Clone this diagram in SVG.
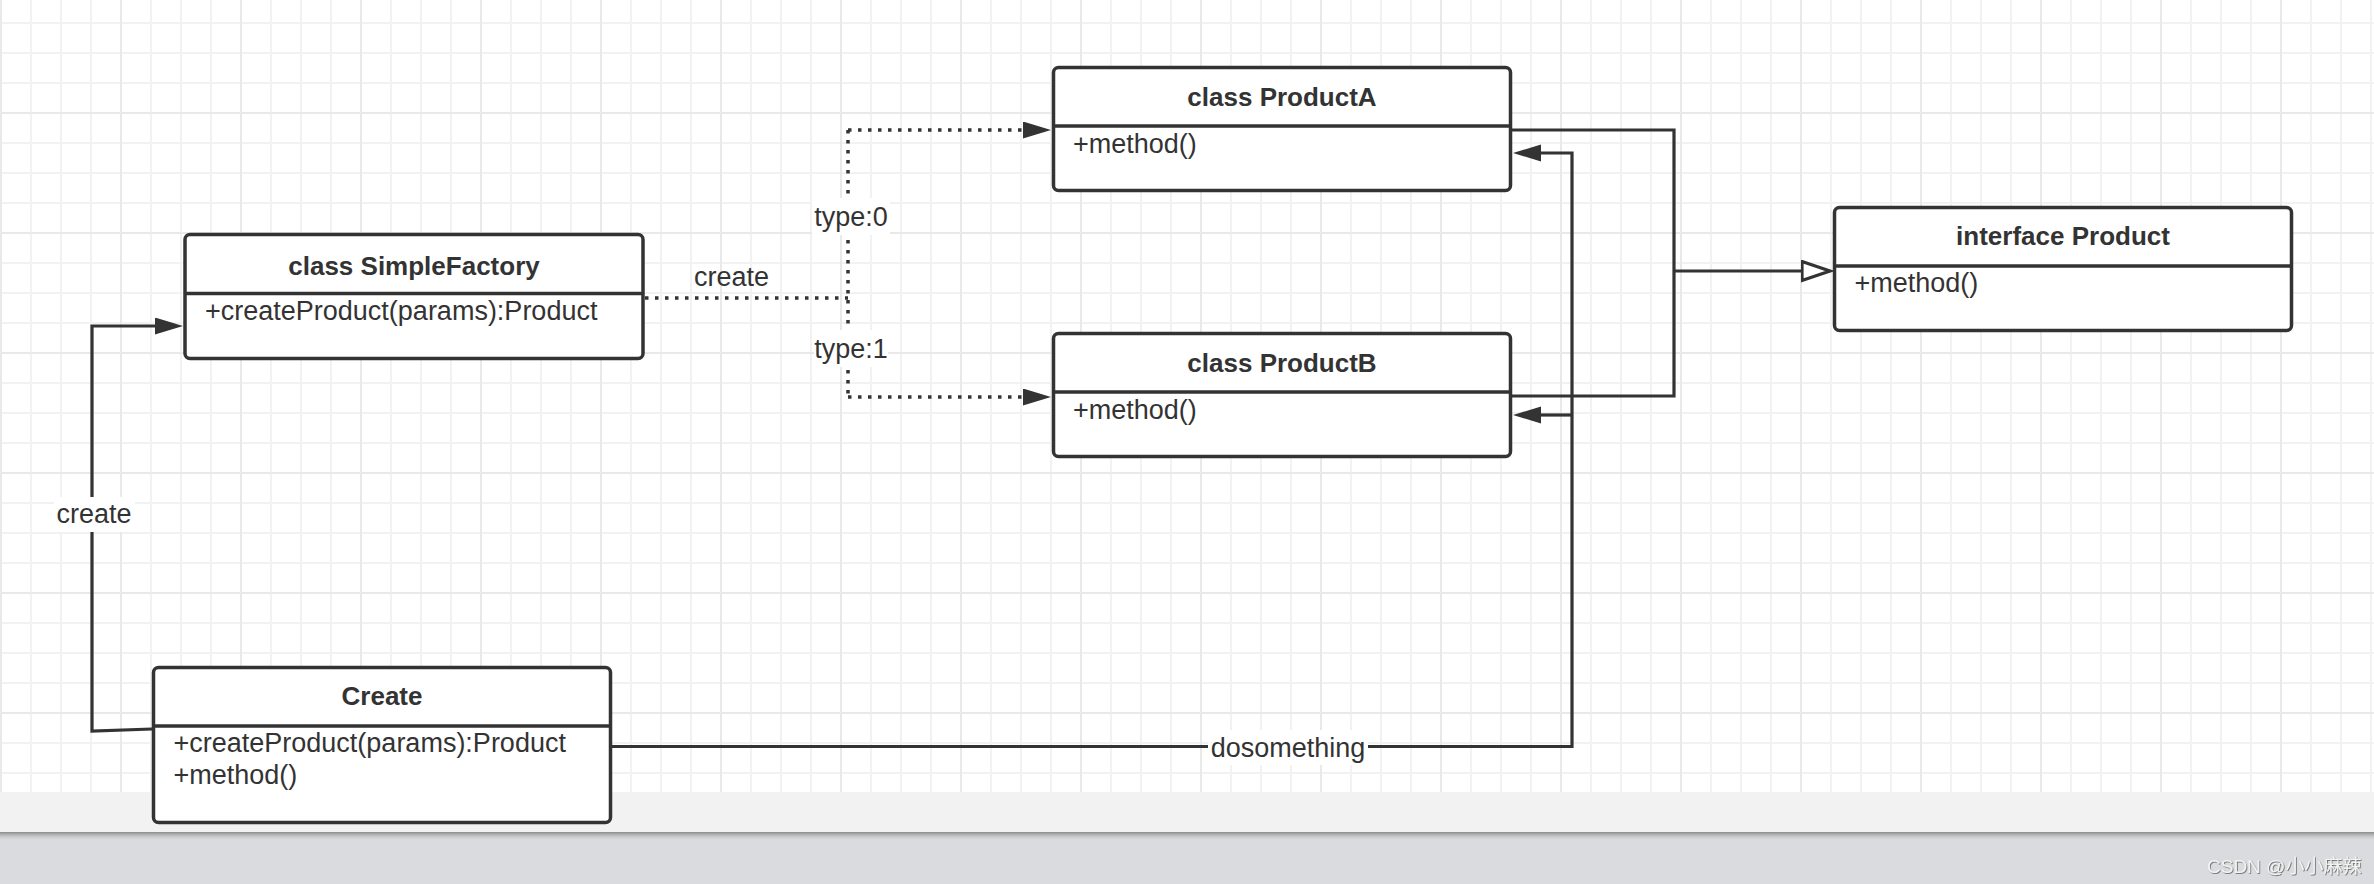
<svg xmlns="http://www.w3.org/2000/svg" width="2374" height="884" viewBox="0 0 2374 884">
<style>
.box{fill:#ffffff;stroke:#333333;stroke-width:3.5}
.div{stroke:#333333;stroke-width:3.5}
.title{font-family:"Liberation Sans",Arial,sans-serif;font-size:26px;font-weight:700;fill:#333333;text-anchor:middle}
.txt{font-family:"Liberation Sans",Arial,sans-serif;font-size:27px;fill:#333333}
.lbl{font-family:"Liberation Sans",Arial,sans-serif;font-size:27px;fill:#333333;text-anchor:middle}
.lblbg{fill:#ffffff}
.edge{fill:none;stroke:#333333;stroke-width:3.2}
.dot{fill:none;stroke:#333333;stroke-width:3.5;stroke-dasharray:3.5 6.5}
.wm{font-family:"Liberation Sans","Noto Sans CJK SC",sans-serif;font-size:19px;fill:#f3f3f3}
</style>
<defs>
<pattern id="grid" patternUnits="userSpaceOnUse" x="-14" y="-22" width="120" height="120">
<path d="M45,0V120M75,0V120M105,0V120M0,45H120M0,75H120M0,105H120" stroke="#f2f2f2" stroke-width="2" fill="none"/>
<path d="M15,0V120M0,15H120" stroke="#e9e9e9" stroke-width="2" fill="none"/>
</pattern>
<linearGradient id="shadow" x1="0" y1="0" x2="0" y2="1">
<stop offset="0" stop-color="#8a8a8a"/>
<stop offset="1" stop-color="#dadbde" stop-opacity="0"/>
</linearGradient>
<marker id="arr" markerUnits="userSpaceOnUse" markerWidth="30" markerHeight="20" refX="0" refY="8.5" orient="auto" viewBox="0 0 30 20">
<path d="M0,0 L28,8.5 L0,17 z" fill="#333333"/>
</marker>
<marker id="tri" markerUnits="userSpaceOnUse" markerWidth="34" markerHeight="24" refX="1.5" refY="11" orient="auto" viewBox="0 0 34 24">
<path d="M1.5,1.5 L29.5,11 L1.5,20.5 z" fill="#ffffff" stroke="#333333" stroke-width="3.2"/>
</marker>
<filter id="emboss" x="-5%" y="-20%" width="110%" height="140%">
<feDropShadow dx="0.8" dy="0.8" stdDeviation="0.5" flood-color="#555555" flood-opacity="0.9"/>
</filter>
</defs>

<g id="background">
<rect x="0" y="0" width="2374" height="792" fill="#ffffff"/>
<rect x="0" y="0" width="2374" height="792" fill="url(#grid)"/>
<rect x="0" y="792" width="2374" height="40" fill="#f2f2f2"/>
<rect x="0" y="832" width="2374" height="52" fill="#dadbde"/>
<rect x="0" y="832" width="2374" height="9" fill="url(#shadow)"/>
</g>

<g id="connectors">
<path class="edge" d="M152,729 L92,731 V326 H155" marker-end="url(#arr)"/>
<path class="dot" d="M645,298 H848 M848,130 V397"/>
<path class="dot" d="M848,130 H1023" marker-end="url(#arr)"/>
<path class="dot" d="M848,397 H1023" marker-end="url(#arr)"/>
<path class="edge" d="M1512,130 H1674 V396 H1512"/>
<path class="edge" d="M1674,271 H1802" marker-end="url(#tri)"/>
<path class="edge" d="M612,746.5 H1572 V153 H1541" marker-end="url(#arr)"/>
<path class="edge" d="M1572,415 H1541" marker-end="url(#arr)"/>
<rect class="lblbg" x="54" y="497" width="81" height="35"/>
<text class="lbl" x="94" y="523">create</text>
<text class="lbl" x="731.5" y="285.5">create</text>
<rect class="lblbg" x="812" y="198" width="78" height="37"/>
<text class="lbl" x="851" y="226">type:0</text>
<rect class="lblbg" x="814" y="330" width="74" height="37"/>
<text class="lbl" x="851" y="358">type:1</text>
<rect class="lblbg" x="1208" y="730" width="160" height="35"/>
<text class="lbl" x="1288" y="757">dosomething</text>
</g>

<g id="SimpleFactory">
<rect class="box" x="185" y="234.5" width="458" height="124" rx="5"/>
<line class="div" x1="185" y1="293.5" x2="643" y2="293.5"/>
<text class="title" x="414" y="275">class SimpleFactory</text>
<text class="txt" x="205" y="320">+createProduct(params):Product</text>
</g>

<g id="ProductA">
<rect class="box" x="1053.5" y="67.5" width="457" height="123" rx="5"/>
<line class="div" x1="1053.5" y1="126" x2="1510.5" y2="126"/>
<text class="title" x="1282" y="106">class ProductA</text>
<text class="txt" x="1073" y="153">+method()</text>
</g>

<g id="ProductB">
<rect class="box" x="1053.5" y="333.5" width="457" height="123" rx="5"/>
<line class="div" x1="1053.5" y1="392" x2="1510.5" y2="392"/>
<text class="title" x="1282" y="372">class ProductB</text>
<text class="txt" x="1073" y="419">+method()</text>
</g>

<g id="Product">
<rect class="box" x="1834.5" y="207.5" width="457" height="123" rx="5"/>
<line class="div" x1="1834.5" y1="266" x2="2291.5" y2="266"/>
<text class="title" x="2063" y="245">interface Product</text>
<text class="txt" x="1854.5" y="292">+method()</text>
</g>

<g id="Create">
<rect class="box" x="153.5" y="667.5" width="457" height="155" rx="5"/>
<line class="div" x1="153.5" y1="726" x2="610.5" y2="726"/>
<text class="title" x="382" y="705">Create</text>
<text class="txt" x="173.5" y="752">+createProduct(params):Product</text>
<text class="txt" x="173.5" y="783.5">+method()</text>
</g>

<g id="watermark">
<text class="wm" x="2207" y="873" filter="url(#emboss)">CSDN @小小麻辣</text>
</g>
</svg>
